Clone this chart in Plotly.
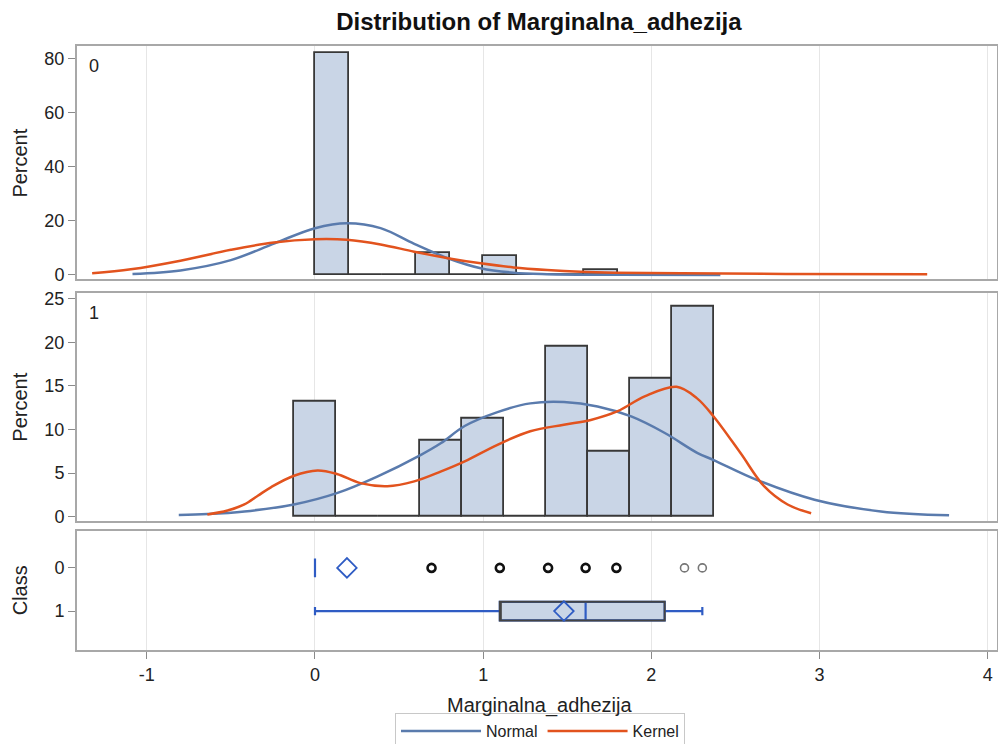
import plotly.graph_objects as go

# ---------------- data ----------------
# Class 0 histogram (bin width 0.2)
bin0_centers = [0.1, 0.3, 0.5, 0.7, 0.9, 1.1, 1.3, 1.5, 1.7]
bin0_pct = [82.1, 0, 0, 8.3, 0, 7.0, 0, 0, 1.85]
bin0_width = 0.2

# Class 1 histogram (bin width 0.25)
bin1_centers = [0.0, 0.25, 0.5, 0.75, 1.0, 1.25, 1.5, 1.75, 2.0, 2.25]
bin1_pct = [13.2, 0, 0, 8.7, 11.2, 0, 19.5, 7.5, 15.8, 24.1]
bin1_width = 0.25

# density curves
normal0_x = [-1.085, -0.80, -0.50, -0.24, 0.0, 0.19, 0.39, 0.59, 0.79, 0.985, 1.18, 1.38, 1.8, 2.41]
normal0_y = [0.4, 1.7, 5.5, 11.7, 17.3, 19.1, 17.3, 11.5, 6.2, 2.5, 0.85, 0.3, 0.05, 0.0]
kernel0_x = [-1.325, -1.095, -0.80, -0.50, -0.245, 0.0, 0.19, 0.39, 0.59, 0.79, 0.985, 1.18,
             1.38, 1.58, 1.78, 2.18, 2.8, 3.64]
kernel0_y = [0.6, 2.1, 5.3, 9.3, 12.0, 13.2, 13.0, 11.3, 8.6, 6.2, 4.3, 2.8,
             1.85, 1.2, 0.85, 0.6, 0.4, 0.3]

normal1_x = [-0.81, -0.64, -0.42, -0.125, 0.13, 0.37, 0.63, 0.75, 0.89, 1.085, 1.28, 1.48,
             1.68, 1.88, 2.08, 2.275, 2.37, 2.63, 2.97, 3.365, 3.77]
normal1_y = [0.2, 0.3, 0.6, 1.4, 2.7, 4.6, 7.1, 8.45, 10.4, 12.0, 13.0, 13.15,
             12.65, 11.5, 9.6, 7.3, 6.5, 4.2, 1.95, 0.6, 0.15]
kernel1_x = [-0.64, -0.52, -0.42, -0.34, -0.26, -0.125, 0.015, 0.13, 0.27, 0.43, 0.59, 0.75,
             0.89, 1.085, 1.28, 1.48, 1.64, 1.80, 1.96, 2.15, 2.27, 2.37, 2.53, 2.67, 2.81, 2.95]
kernel1_y = [0.25, 0.7, 1.4, 2.4, 3.4, 4.7, 5.3, 4.9, 3.85, 3.5, 4.05, 5.2,
             6.35, 8.25, 9.8, 10.55, 11.1, 12.1, 13.8, 14.9, 13.6, 11.5, 7.3, 3.5, 1.4, 0.4]

# box plot statistics
classes = [0, 1]
box_q1 = [0.0, 1.099]
box_median = [0.0, 1.609]
box_q3 = [0.0, 2.079]
box_low = [0.0, 0.0]
box_high = [0.0, 2.303]
box_mean = [0.19, 1.48]
outliers0_dark = [0.693, 1.099, 1.386, 1.609, 1.792]
outliers0_light = [2.197, 2.303]

x_ticks = [-1, 0, 1, 2, 3, 4]
x_ticktext = ["-1", "0", "1", "2", "3", "4"]

# ---------------- style ----------------
FONT = "Liberation Sans, Arial, sans-serif"
BAR_FILL = "#c9d5e6"
BAR_LINE = "#383838"
NORMAL_C = "#5a7bad"
KERNEL_C = "#e2531e"
BOX_BLUE = "#2f5cc4"
FRAME = "#a8a8a8"
GRID = "#e6e6e6"

fig = go.Figure()

# histograms
fig.add_trace(go.Bar(x=bin0_centers, y=bin0_pct, width=bin0_width,
                     marker=dict(color=BAR_FILL, line=dict(color=BAR_LINE, width=1.8)),
                     xaxis="x", yaxis="y", showlegend=False))
fig.add_trace(go.Bar(x=bin1_centers, y=bin1_pct, width=bin1_width,
                     marker=dict(color=BAR_FILL, line=dict(color=BAR_LINE, width=1.8)),
                     xaxis="x2", yaxis="y2", showlegend=False))

# curves
fig.add_trace(go.Scatter(x=normal0_x, y=normal0_y, mode="lines", name="Normal",
                         line=dict(color=NORMAL_C, width=2.5, shape="spline", smoothing=1.0),
                         xaxis="x", yaxis="y", showlegend=True, legendrank=1))
fig.add_trace(go.Scatter(x=kernel0_x, y=kernel0_y, mode="lines", name="Kernel",
                         line=dict(color=KERNEL_C, width=2.5, shape="spline", smoothing=1.0),
                         xaxis="x", yaxis="y", showlegend=True, legendrank=2))
fig.add_trace(go.Scatter(x=normal1_x, y=normal1_y, mode="lines", name="Normal",
                         line=dict(color=NORMAL_C, width=2.5, shape="spline", smoothing=1.0),
                         xaxis="x2", yaxis="y2", showlegend=False))
fig.add_trace(go.Scatter(x=kernel1_x, y=kernel1_y, mode="lines", name="Kernel",
                         line=dict(color=KERNEL_C, width=2.5, shape="spline", smoothing=1.0),
                         xaxis="x2", yaxis="y2", showlegend=False))

# box plots (blue: whiskers, median; then dark outline on top)
for i, c in enumerate(classes):
    fig.add_trace(go.Box(y=[c], q1=[box_q1[i]], median=[box_median[i]], q3=[box_q3[i]],
                         lowerfence=[box_low[i]], upperfence=[box_high[i]],
                         orientation="h", width=0.43, whiskerwidth=0.45,
                         fillcolor=BAR_FILL, line=dict(color=BOX_BLUE, width=2.2),
                         boxpoints=False, xaxis="x3", yaxis="y3", showlegend=False,
                         hoverinfo="skip"))
    if box_q3[i] > box_q1[i]:
        fig.add_trace(go.Box(y=[c], q1=[box_q1[i]], median=[box_q1[i]], q3=[box_q3[i]],
                             lowerfence=[box_q1[i]], upperfence=[box_q3[i]],
                             orientation="h", width=0.43, whiskerwidth=0,
                             fillcolor="rgba(0,0,0,0)", line=dict(color="#444444", width=2),
                             boxpoints=False, xaxis="x3", yaxis="y3", showlegend=False,
                             hoverinfo="skip"))

fig.add_trace(go.Scatter(x=box_mean, y=classes, mode="markers",
                         marker=dict(symbol="diamond-open", size=15, color=BOX_BLUE,
                                     line=dict(width=1.8, color=BOX_BLUE)),
                         xaxis="x3", yaxis="y3", showlegend=False))
fig.add_trace(go.Scatter(x=outliers0_dark, y=[0] * len(outliers0_dark), mode="markers",
                         marker=dict(symbol="circle-open", size=8, color="#111111",
                                     line=dict(width=2.6, color="#111111")),
                         xaxis="x3", yaxis="y3", showlegend=False))
fig.add_trace(go.Scatter(x=outliers0_light, y=[0] * len(outliers0_light), mode="markers",
                         marker=dict(symbol="circle-open", size=8, color="#777777",
                                     line=dict(width=1.6, color="#777777")),
                         xaxis="x3", yaxis="y3", showlegend=False))

XR = [-1.415, 4.055]
common_x = dict(range=XR, showgrid=True, gridcolor=GRID, gridwidth=1, tickvals=x_ticks,
                ticktext=x_ticktext, automargin=False,
                zeroline=False, showline=True, mirror=True, linecolor=FRAME, linewidth=2)
common_y = dict(showgrid=False, zeroline=False, showline=True, mirror=True, automargin=False,
                linecolor=FRAME, linewidth=2, ticks="outside", ticklen=7, tickcolor="#8a8a8a",
                tickfont=dict(size=18, color="#222222", family=FONT))

fig.update_layout(
    width=998, height=744,
    margin=dict(l=77, r=1, t=46, b=94, autoexpand=False),
    paper_bgcolor="white", plot_bgcolor="white",
    font=dict(family=FONT, color="#222222"),
    title=dict(text="<b>Distribution of Marginalna_adhezija</b>", x=0.540, xanchor="center",
               xref="container", y=1 - 22 / 744, yanchor="middle",
               font=dict(size=24, family=FONT, color="#111111")),
    barmode="overlay", boxmode="overlay", bargap=0,
    xaxis=dict(common_x, anchor="y", showticklabels=False, ticks=""),
    xaxis2=dict(common_x, anchor="y2", showticklabels=False, ticks=""),
    xaxis3=dict(common_x, anchor="y3", ticks="outside", ticklen=7, tickcolor="#8a8a8a",
                tickfont=dict(size=18, color="#222222", family=FONT)),
    yaxis=dict(common_y, domain=[0.6137, 1.0], range=[-1.6, 84.6], tickvals=[0, 20, 40, 60, 80]),
    yaxis2=dict(common_y, domain=[0.2141, 0.5916], range=[-0.46, 25.7],
                tickvals=[0, 5, 10, 15, 20, 25]),
    yaxis3=dict(common_y, domain=[0.0, 0.1975], range=[1.90, -0.86], tickvals=[0, 1],
                ticktext=["0", "1"]),
    legend=dict(orientation="h", xref="container", yref="container",
                x=540 / 998, xanchor="center", y=1 - 713 / 744, yanchor="top",
                bordercolor="#c8c8c8", borderwidth=1, bgcolor="white", itemwidth=80,
                font=dict(size=16, family=FONT, color="#222222"), traceorder="normal"),
    showlegend=True,
)

annots = [
    dict(text="0", xref="x domain", yref="y domain", x=0.011, y=0.965, xanchor="left",
         yanchor="top", showarrow=False, font=dict(size=18)),
    dict(text="1", xref="x2 domain", yref="y2 domain", x=0.011, y=0.965, xanchor="left",
         yanchor="top", showarrow=False, font=dict(size=18)),
    dict(text="Percent", xref="paper", yref="y domain", x=-0.062, y=0.5, textangle=-90,
         xanchor="center", yanchor="middle", showarrow=False, font=dict(size=20)),
    dict(text="Percent", xref="paper", yref="y2 domain", x=-0.062, y=0.5, textangle=-90,
         xanchor="center", yanchor="middle", showarrow=False, font=dict(size=20)),
    dict(text="Class", xref="paper", yref="y3 domain", x=-0.062, y=0.5, textangle=-90,
         xanchor="center", yanchor="middle", showarrow=False, font=dict(size=20)),
    dict(text="Marginalna_adhezija", xref="paper", yref="paper", x=0.503, y=-0.0927,
         xanchor="center", yanchor="middle", showarrow=False, font=dict(size=20)),
]
fig.update_layout(annotations=annots)

fig.write_html(
    "out.html",
    config={"displayModeBar": False},
    post_script="document.body.style.margin='0';document.body.style.padding='0';"
                "document.body.style.overflow='hidden';",
)
